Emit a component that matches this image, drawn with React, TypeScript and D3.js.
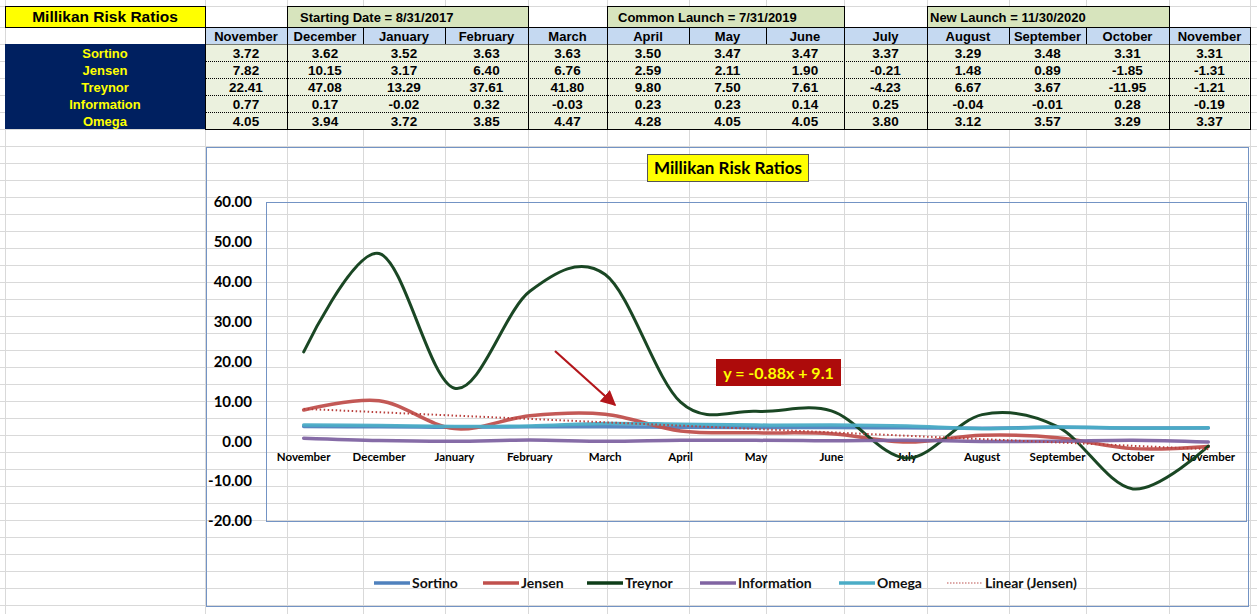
import * as d3 from "d3";

const months = [
  "November", "December", "January", "February", "March", "April", "May",
  "June", "July", "August", "September", "October", "November",
];
const sortino = [3.72, 3.62, 3.52, 3.63, 3.63, 3.5, 3.47, 3.47, 3.37, 3.29, 3.48, 3.31, 3.31];
const jensen = [7.82, 10.15, 3.17, 6.4, 6.76, 2.59, 2.11, 1.9, -0.21, 1.48, 0.89, -1.85, -1.31];
const treynor = [22.41, 47.08, 13.29, 37.61, 41.8, 9.8, 7.5, 7.61, -4.23, 6.67, 3.67, -11.95, -1.21];
const information = [0.77, 0.17, -0.02, 0.32, -0.03, 0.23, 0.23, 0.14, 0.25, -0.04, -0.01, 0.28, -0.19];
const omega = [4.05, 3.94, 3.72, 3.85, 4.47, 4.28, 4.05, 4.05, 3.8, 3.12, 3.57, 3.29, 3.37];

const seriesNames = ["Sortino", "Jensen", "Treynor", "Information", "Omega"];
const seriesColors = ["#4f81bd", "#c0504d", "#0e3d18", "#8064a2", "#4bacc6"];

// group headers above the month row: label, first and last month column
const groupLabels = ["Starting Date = 8/31/2017", "Common Launch = 7/31/2019", "New Launch = 11/30/2020"];
const groupFrom = [1, 5, 9];
const groupTo = [3, 7, 11];

const yTicks = [-20, -10, 0, 10, 20, 30, 40, 50, 60];
const trendLabel = "y = -0.88x + 9.1";
const title = "Millikan Risk Ratios";

// sheet layout
const W = 1257;
const H = 614;
const colEdges = [5, 205, 287, 363, 445, 528, 607, 689, 766, 844, 927, 1009, 1086, 1169, 1250];
const rowTops = [6, 27, 44, 61, 78, 95, 112, 129];
const gridRows = d3.range(129, H + 17, 17);
const groupIndent = [13, 11, 3];

const tableFont = "'Liberation Sans', Arial, sans-serif";
const chartFont = "Lato, 'Open Sans', sans-serif";
const gridColor = "#d9d9d9";
const frameColor = "#7393c4";

function App() {
  const series = [sortino, jensen, treynor, information, omega];

  // chart plot area
  const plot = { left: 266, right: 1246, top: 202, bottom: 521 };
  const x = d3
    .scalePoint<number>()
    .domain(d3.range(months.length))
    .range([plot.left, plot.right])
    .padding(0.5);
  const y = d3.scaleLinear().domain([-20, 60]).range([plot.bottom, plot.top]);

  const line = d3
    .line<number>()
    .x((_, i) => x(i) as number)
    .y((d) => y(d))
    .curve(d3.curveCatmullRom.alpha(0));

  // linear trend of Jensen (x = 1..n)
  const xs = jensen.map((_, i) => i + 1);
  const mx = d3.mean(xs) as number;
  const my = d3.mean(jensen) as number;
  const slope =
    d3.sum(xs, (v, i) => (v - mx) * (jensen[i] - my)) / d3.sum(xs, (v) => (v - mx) ** 2);
  const intercept = my - slope * mx;
  const trend = xs.map((v) => slope * v + intercept);

  const legendX = [374, 483, 587, 700, 839, 947];
  const legendY = 583;

  const colCenter = (c: number) => (colEdges[c + 1] + colEdges[c + 2]) / 2;

  return (
    <svg
      width={W}
      height={H}
      style={{ position: "absolute", left: 0, top: 0, background: "#fff" }}
    >
      {/* sheet grid */}
      <g stroke={gridColor} strokeWidth={1}>
        {colEdges.map((cx, i) => (
          <line key={"v" + i} x1={cx + 0.5} x2={cx + 0.5} y1={0} y2={H} />
        ))}
        {[...rowTops, ...gridRows].map((ry, i) => (
          <line key={"h" + i} x1={0} x2={W} y1={ry + 0.5} y2={ry + 0.5} />
        ))}
      </g>

      {/* title cell */}
      <rect x={5.5} y={6.5} width={200} height={21} fill="#ffff00" stroke="#000" />
      <text
        x={105}
        y={22}
        textAnchor="middle"
        fontFamily={tableFont}
        fontWeight="bold"
        fontSize={15.5}
      >
        {title}
      </text>

      {/* group headers */}
      {groupLabels.map((g, i) => {
        const x0 = colEdges[groupFrom[i] + 1];
        const x1 = colEdges[groupTo[i] + 2];
        return (
          <g key={g}>
            <rect x={x0 + 0.5} y={6.5} width={x1 - x0} height={21} fill="#d7e4bd" stroke="#000" />
            <text
              x={x0 + groupIndent[i]}
              y={22}
              fontFamily={tableFont}
              fontWeight="bold"
              fontSize={13}
            >
              {g}
            </text>
          </g>
        );
      })}

      {/* month header row */}
      {months.map((m, c) => (
        <g key={"mh" + c}>
          <rect
            x={colEdges[c + 1] + 0.5}
            y={27.5}
            width={colEdges[c + 2] - colEdges[c + 1]}
            height={17}
            fill="#c5d9f1"
            stroke="#000"
          />
          <text
            x={colCenter(c)}
            y={41}
            textAnchor="middle"
            fontFamily={tableFont}
            fontWeight="bold"
            fontSize={13}
          >
            {m}
          </text>
        </g>
      ))}

      {/* row labels */}
      <rect x={5} y={44} width={200} height={85} fill="#002060" />
      {seriesNames.map((n, r) => (
        <text
          key={"rl" + n}
          x={105}
          y={rowTops[r + 2] + 13.5}
          textAnchor="middle"
          fontFamily={tableFont}
          fontWeight="bold"
          fontSize={13}
          fill="#ffff00"
        >
          {n}
        </text>
      ))}

      {/* data cells */}
      <rect x={205.5} y={44.5} width={1044} height={85} fill="#ebf1de" />
      {seriesNames.slice(0, 4).map((n, r) => (
        <line
          key={"dl" + n}
          x1={206}
          x2={1250}
          y1={rowTops[r + 3] + 0.5}
          y2={rowTops[r + 3] + 0.5}
          stroke="#000"
          strokeDasharray="1,1"
        />
      ))}
      {series.map((s, r) =>
        s.map((v, c) => (
          <text
            key={"dv" + r + "-" + c}
            x={colCenter(c)}
            y={rowTops[r + 2] + 13.5}
            textAnchor="middle"
            fontFamily={tableFont}
            fontWeight="bold"
            fontSize={13.5}
          >
            {v.toFixed(2)}
          </text>
        ))
      )}
      <g stroke="#000" strokeWidth={1}>
        {[1, 2, 5, 6, 9, 10, 13, 14].map((c) => (
          <line key={"bv" + c} x1={colEdges[c] + 0.5} x2={colEdges[c] + 0.5} y1={44} y2={130} />
        ))}
        <line x1={205} x2={1251} y1={129.5} y2={129.5} />
      </g>

      {/* chart frame */}
      <rect x={206.5} y={147.5} width={1042} height={459} fill="none" stroke={frameColor} />
      <rect
        x={plot.left + 0.5}
        y={plot.top + 0.5}
        width={plot.right - plot.left}
        height={plot.bottom - plot.top}
        fill="none"
        stroke={frameColor}
      />

      {/* chart title */}
      <rect x={647.5} y={154.5} width={161} height={27} fill="#ffff00" stroke="#555" />
      <text
        x={728}
        y={174}
        textAnchor="middle"
        fontFamily={chartFont}
        fontWeight="bold"
        fontSize={17}
      >
        {title}
      </text>

      {/* y axis labels */}
      {yTicks.map((t) => (
        <text
          key={"yt" + t}
          x={252}
          y={y(t)}
          dy="0.35em"
          textAnchor="end"
          fontFamily={chartFont}
          fontWeight="bold"
          fontSize={15}
        >
          {t.toFixed(2)}
        </text>
      ))}

      {/* x axis labels */}
      {months.map((m, i) => (
        <text
          key={"xt" + i}
          x={x(i)}
          y={y(0) + 20}
          textAnchor="middle"
          fontFamily={chartFont}
          fontWeight="bold"
          fontSize={11.5}
        >
          {m}
        </text>
      ))}

      {/* series */}
      {series.map((s, i) => (
        <path
          key={"s" + i}
          d={line(s) as string}
          fill="none"
          stroke={seriesColors[i]}
          strokeWidth={i === 2 ? 3 : 3.5}
          strokeLinecap="round"
          strokeOpacity={0.95}
        />
      ))}
      <path
        d={line.curve(d3.curveLinear)(trend) as string}
        fill="none"
        stroke="#b9403d"
        strokeWidth={2}
        strokeDasharray="1.5,2.5"
      />

      {/* annotation arrow */}
      <defs>
        <marker
          id="arrowHead"
          viewBox="0 0 10 10"
          refX={9}
          refY={5}
          markerWidth={7}
          markerHeight={7}
          markerUnits="strokeWidth"
          orient="auto"
        >
          <path d="M0,0 L10,5 L0,10 Z" fill="#b3161b" />
        </marker>
      </defs>
      <line
        x1={555}
        y1={351}
        x2={615}
        y2={405}
        stroke="#b3161b"
        strokeWidth={2.2}
        markerEnd="url(#arrowHead)"
      />

      {/* trend equation */}
      <rect x={716} y={359} width={125} height={27} fill="#ad0b0b" />
      <text
        x={778.5}
        y={378.5}
        textAnchor="middle"
        fontFamily={chartFont}
        fontWeight="bold"
        fontSize={16}
        fill="#ffff00"
      >
        {trendLabel}
      </text>

      {/* legend */}
      {[...seriesNames, "Linear (Jensen)"].map((n, i) => (
        <g key={"lg" + n} transform={`translate(${legendX[i]},${legendY})`}>
          {i < 5 ? (
            <line x1={0} x2={36} y1={0} y2={0} stroke={seriesColors[i]} strokeWidth={3.5} />
          ) : (
            <line
              x1={0}
              x2={36}
              y1={0}
              y2={0}
              stroke="#d28c8a"
              strokeWidth={1.5}
              strokeDasharray="1.5,1.5"
            />
          )}
          <text
            x={38}
            y={5}
            fontFamily={chartFont}
            fontWeight="bold"
            fontSize={14}
            fill="#111"
          >
            {n}
          </text>
        </g>
      ))}
    </svg>
  );
}

export default App;
